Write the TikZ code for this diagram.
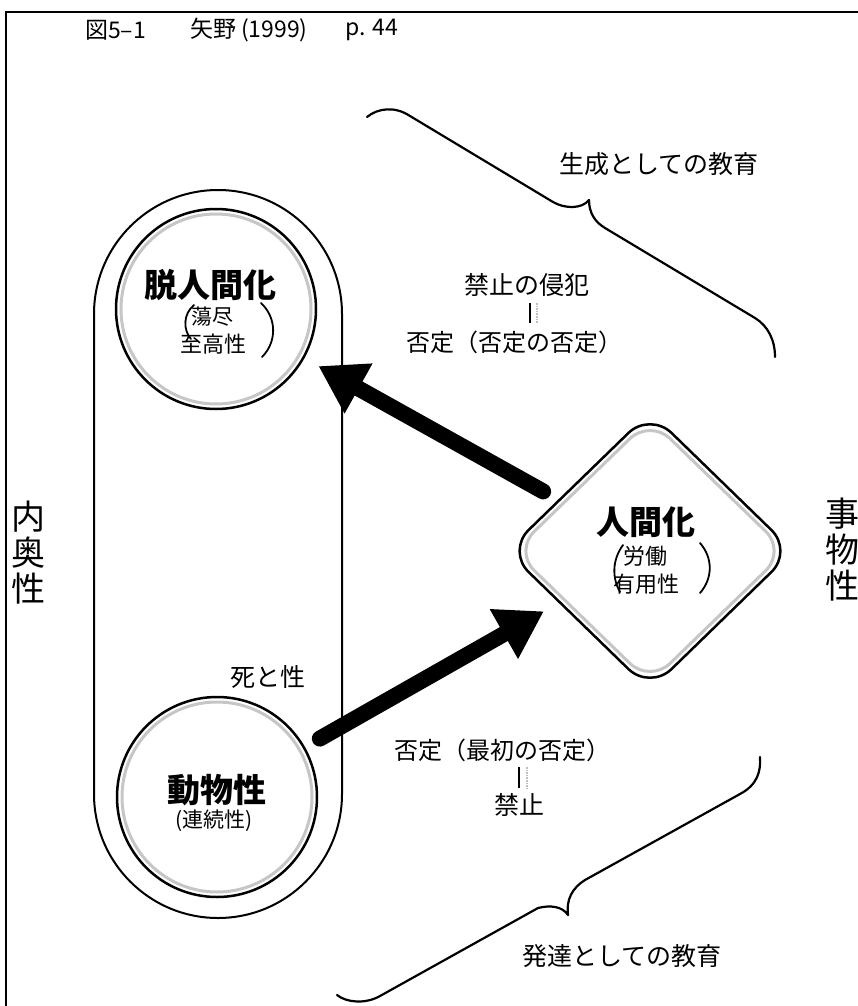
\documentclass[tikz,border=0pt]{standalone}
\usepackage{fontspec}
\setmainfont{Noto Sans CJK JP}
\usetikzlibrary{arrows.meta,shapes.geometric}
\newcommand{\fsz}[1]{\fontsize{#1}{#1}\selectfont}
\begin{document}
\begin{tikzpicture}[x=1pt,y=-1pt,
  lbl/.style={inner sep=0pt, outer sep=0pt},
  frameline/.style={line width=2.2pt},
  ring/.style={circle, draw, line width=2.5pt, minimum size=200pt, inner sep=0pt},
  ringin/.style={draw=gray!45, line width=3pt},
  bigarrow/.style={line width=16pt, line cap=round, -{Triangle[length=46pt,width=54pt]}},
  bracepath/.style={line width=2.2pt, line cap=round, line join=round},
  paren/.style={line width=1.8pt, line cap=round},
  vmark/.style={line width=1.6pt},
  vmarkg/.style={line width=1.6pt, gray!50, densely dotted},
  vtext/.style={inner sep=0pt, outer sep=0pt, align=center, font=\fontsize{34}{36}\selectfont}
]
\useasboundingbox (0,0) rectangle (858,1006);
\clip (0,0) rectangle (858,1006);

% frame
\draw[frameline] (6,1006) -- (6,12) -- (858,12);

% title
\node[lbl, anchor=west] (ttl1) at (85,30) {\fsz{23}図5–1};
\node[lbl, anchor=west] (ttl2) at (190,30) {\fsz{23}矢野 (1999)};
\node[lbl, anchor=west] (ttl3) at (345,30) {\fsz{23}p. 44};

% stadium
\node[draw, line width=2pt, rounded corners=124pt, minimum width=248pt, minimum height=728pt, inner sep=0pt] (stad) at (218,554) {};

% circles
\node[ring] (trans) at (216,309) {};
\draw[ringin] (trans.center) circle[radius=95pt];
\node[ring] (anim) at (217,797) {};
\draw[ringin] (anim.center) circle[radius=95pt];

% diamond
\node[diamond, draw, line width=2.5pt, minimum width=287pt, minimum height=279pt, inner sep=0pt, rounded corners=30pt] (hum) at (650,551) {};
\node[diamond, draw=gray!45, line width=3pt, minimum width=273pt, minimum height=265pt, inner sep=0pt, rounded corners=28pt] (humin) at (650,551) {};

% arrows
\draw[bigarrow, shorten <=17pt, shorten >=16pt] (hum) -- (trans);
\draw[bigarrow, shorten <=17pt, shorten >=17pt] (anim) -- (hum);

% texts in trans
\node[lbl] (transT) at (210,285) {\fsz{33}\bfseries 脱人間化};
\node[lbl] (transA) at (212,317) {\fsz{21}蕩尽};
\node[lbl] (transB) at (213,344) {\fsz{22}至高性};
\draw[paren] (194,305) .. controls (183,314) and (183,330) .. (191,339);
\draw[paren] (261,303) .. controls (277,318) and (277,342) .. (262,357);

% texts in hum
\node[lbl] (humT) at (646,522) {\fsz{33}\bfseries 人間化};
\node[lbl] (humA) at (645,556) {\fsz{22}労働};
\node[lbl] (humB) at (646,584) {\fsz{22}有用性};
\draw[paren] (623,545) .. controls (612,560) and (612,578) .. (620,592);
\draw[paren] (700,543) .. controls (713,558) and (713,578) .. (700,593);

% texts in anim
\node[lbl] (animT) at (217,790) {\fsz{33}\bfseries 動物性};
\node[lbl] (animA) at (214,821) {\fsz{21}(連続性)};

% labels
\node[lbl] (l1) at (527,285) {\fsz{25}禁止の侵犯};
\node[lbl] (l2) at (514,342) {\fsz{24}否定（否定の否定）};
\draw[vmark] (530,303) -- (530,323);
\draw[vmarkg] (537,303) -- (537,323);
\node[lbl] (l3) at (502,750) {\fsz{24}否定（最初の否定）};
\node[lbl] (l4) at (519,805) {\fsz{25}禁止};
\draw[vmark] (519,767) -- (519,788);
\draw[vmarkg] (527,767) -- (527,788);
\node[lbl] (l5) at (268,677) {\fsz{25}死と性};

\node[lbl] (gen) at (659,164) {\fsz{25}生成としての教育};
\node[lbl] (dev) at (622,956) {\fsz{25}発達としての教育};

\node[vtext] (inner) at (28,553) {内\\奥\\性};
\node[vtext] (thing) at (842,550) {事\\物\\性};

% braces
\draw[bracepath] (367,117) .. controls (378,108) and (395,106) .. (410,116) -- (553,202)
  .. controls (565,209) and (582,209) .. (589,200)
  .. controls (589,213) and (595,222) .. (605,228) -- (755,318)
  .. controls (768,326) and (775,340) .. (775,357);
\draw[bracepath] (760,757) .. controls (761,772) and (757,785) .. (740,794) -- (585,880)
  .. controls (572,888) and (566,900) .. (568,915)
  .. controls (562,906) and (550,905) .. (538,908) -- (380,996)
  .. controls (366,1004) and (347,1003) .. (337,995);
\end{tikzpicture}
\end{document}
